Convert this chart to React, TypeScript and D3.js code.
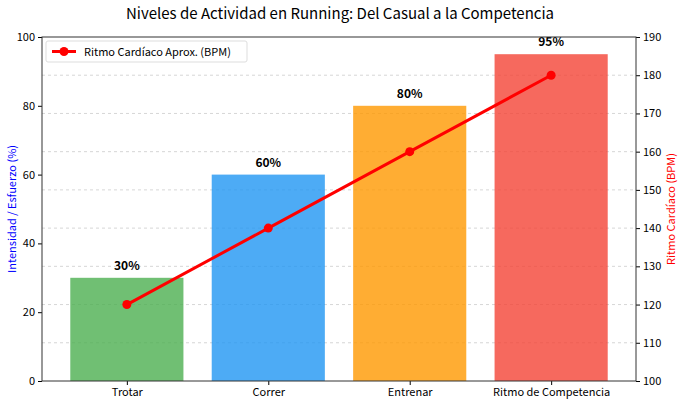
import * as d3 from 'd3';
import * as React from 'react';

const categories = ['Trotar', 'Correr', 'Entrenar', 'Ritmo de Competencia'];
const intensity = [30, 60, 80, 95];
const heartRate = [120, 140, 160, 180];
const barColors = ['#4CAF50', '#2196F3', '#FF9800', '#F44336'];
const leftTicks = [0, 20, 40, 60, 80, 100];
const rightTicks = [100, 110, 120, 130, 140, 150, 160, 170, 180, 190];

const FONT = '"Noto Sans CJK JP", "Noto Sans", sans-serif';

const App = () => {
  const ref = React.useRef<SVGSVGElement>(null);

  React.useEffect(() => {
    const W = 680,
      H = 405;
    const margin = { top: 37, right: 44, bottom: 24, left: 42 };
    const width = W - margin.left - margin.right,
      height = H - margin.top - margin.bottom;

    const svg = d3.select(ref.current);
    svg.selectAll('*').remove();
    svg.attr('width', W).attr('height', H).style('font-family', FONT);

    svg
      .append('text')
      .attr('x', W / 2)
      .attr('y', 19)
      .attr('text-anchor', 'middle')
      .style('font-size', '15px')
      .text('Niveles de Actividad en Running: Del Casual a la Competencia');

    const g = svg.append('g').attr('transform', `translate(${margin.left},${margin.top})`);

    const x = d3.scaleLinear().domain([-0.6, 3.6]).range([0, width]);
    const yL = d3.scaleLinear().domain([0, 100]).range([height, 0]);
    const yR = d3.scaleLinear().domain([100, 190]).range([height, 0]);
    const barW = x(0.8) - x(0);

    // grid from right axis
    g.append('g')
      .selectAll('line')
      .data(rightTicks.slice(1, -1))
      .join('line')
      .attr('x1', 0)
      .attr('x2', width)
      .attr('y1', (d) => yR(d))
      .attr('y2', (d) => yR(d))
      .style('stroke', '#cccccc')
      .style('stroke-width', 0.8)
      .style('stroke-dasharray', '3,3');

    g.selectAll('rect.bar')
      .data(intensity)
      .join('rect')
      .attr('class', 'bar')
      .attr('x', (d, i) => x(i) - barW / 2)
      .attr('y', (d) => yL(d))
      .attr('width', barW)
      .attr('height', (d) => height - yL(d))
      .style('fill', (d, i) => barColors[i])
      .style('opacity', 0.8);

    g.selectAll('text.val')
      .data(intensity)
      .join('text')
      .attr('class', 'val')
      .attr('x', (d, i) => x(i))
      .attr('y', (d) => yL(d) - 8)
      .attr('text-anchor', 'middle')
      .style('font-size', '12px')
      .style('font-weight', 'bold')
      .text((d) => `${d}%`);

    const line = d3
      .line<number>()
      .x((d, i) => x(i))
      .y((d) => yR(d));
    g.append('path')
      .datum(heartRate)
      .attr('d', line)
      .style('fill', 'none')
      .style('stroke', '#ff0000')
      .style('stroke-width', 3);
    g.selectAll('circle.pt')
      .data(heartRate)
      .join('circle')
      .attr('class', 'pt')
      .attr('cx', (d, i) => x(i))
      .attr('cy', (d) => yR(d))
      .attr('r', 4.5)
      .style('fill', '#ff0000');

    // axes
    const styleAxis = (ax) => {
      ax.selectAll('text').style('font-size', '11px').style('font-family', FONT).style('fill', '#000');
      ax.selectAll('line').style('stroke', '#000');
      ax.select('.domain').remove();
    };
    const left = g.append('g').call(d3.axisLeft(yL).tickValues(leftTicks).tickSize(4).tickPadding(3));
    styleAxis(left);
    const right = g
      .append('g')
      .attr('transform', `translate(${width},0)`)
      .call(d3.axisRight(yR).tickValues(rightTicks).tickSize(4).tickPadding(3));
    styleAxis(right);
    const bottom = g
      .append('g')
      .attr('transform', `translate(0,${height})`)
      .call(
        d3
          .axisBottom(x)
          .tickValues(categories.map((c, i) => i))
          .tickFormat((d) => categories[d as number])
          .tickSize(4)
          .tickPadding(3)
      );
    styleAxis(bottom);

    g.append('rect')
      .attr('width', width)
      .attr('height', height)
      .style('fill', 'none')
      .style('stroke', '#333')
      .style('stroke-width', 1);

    svg
      .append('text')
      .attr('transform', `translate(16,${margin.top + height / 2}) rotate(-90)`)
      .attr('text-anchor', 'middle')
      .style('font-size', '11px')
      .style('fill', '#0000ff')
      .text('Intensidad / Esfuerzo (%)');
    svg
      .append('text')
      .attr('transform', `translate(675,${margin.top + height / 2}) rotate(-90)`)
      .attr('text-anchor', 'middle')
      .style('font-size', '11px')
      .style('fill', '#ff0000')
      .text('Ritmo Cardíaco (BPM)');

    // legend
    const lg = g.append('g').attr('transform', 'translate(4,4)');
    lg.append('rect')
      .attr('width', 201)
      .attr('height', 21)
      .attr('rx', 2)
      .style('fill', '#fff')
      .style('opacity', 0.8)
      .style('stroke', '#d6d6d6');
    lg.append('line')
      .attr('x1', 6)
      .attr('x2', 30)
      .attr('y1', 10.5)
      .attr('y2', 10.5)
      .style('stroke', '#ff0000')
      .style('stroke-width', 3);
    lg.append('circle').attr('cx', 18).attr('cy', 10.5).attr('r', 4.5).style('fill', '#ff0000');
    lg.append('text')
      .attr('x', 38)
      .attr('y', 14.5)
      .style('font-size', '11px')
      .text('Ritmo Cardíaco Aprox. (BPM)');
  }, []);

  return <svg ref={ref} style={{ position: 'absolute', left: 0, top: 0 }} />;
};

export default App;
